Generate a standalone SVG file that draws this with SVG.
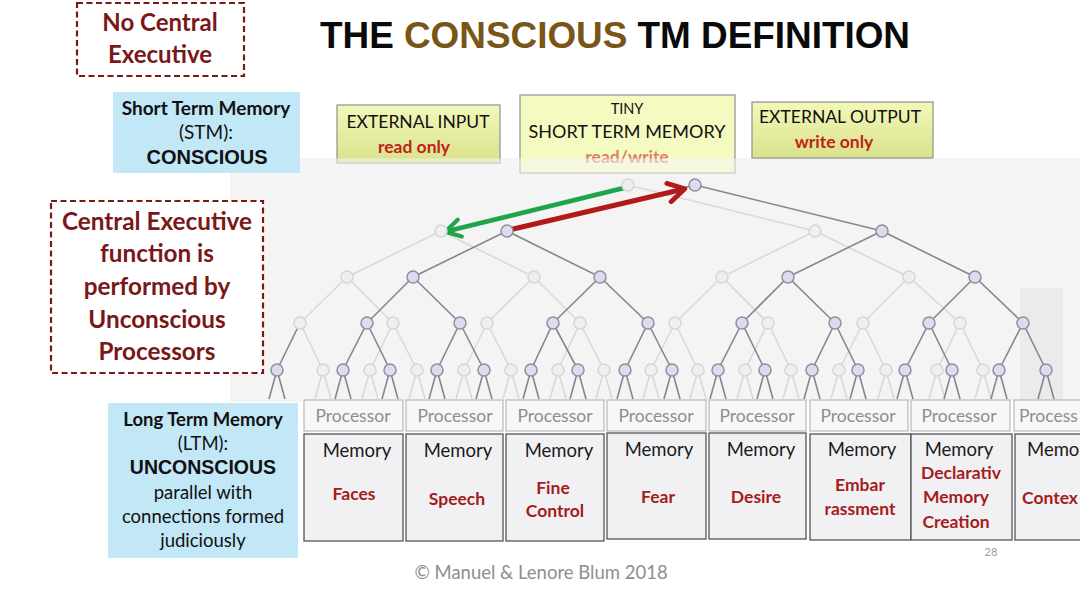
<svg xmlns="http://www.w3.org/2000/svg" width="1080" height="608" viewBox="0 0 1080 608">
<style>
.cal{font-family:Lato,"Open Sans","Liberation Sans",sans-serif}
.ari{font-family:"Liberation Sans",Arial,sans-serif}
.dr{fill:#7a1717;font-weight:bold}
.red{fill:#c0211c;font-weight:bold}
.lab{fill:#a51c1c;font-weight:bold;font-size:17.5px}
.mem{fill:#1a1a1a;font-size:18.5px}
.proc{fill:#8e8e8e;font-size:17.5px}
.dash{fill:#fff;stroke:#7a1717;stroke-width:2.2;stroke-dasharray:6 3.5}
.blue{fill:#c2e7f7}
.pbox{fill:#f7f7f7;stroke:#b8b8b8;stroke-width:1.2}
.mbox{fill:#f1f1f3;stroke:#555;stroke-width:1.3}
.de{stroke:#86868f;stroke-width:1.6;fill:none}
.le{stroke:#d9d9d9;stroke-width:1.6;fill:none}
.dn{fill:#dcdcee;stroke:#8f8fa0;stroke-width:1.5}
.ln{fill:#efefef;stroke:#d6d6d6;stroke-width:1.5}
</style>
<defs>
<linearGradient id="yg" x1="0" y1="0" x2="0" y2="1">
<stop offset="0" stop-color="#f3f8b8"/>
<stop offset="1" stop-color="#d9e28c"/>
</linearGradient>
<marker id="ag" viewBox="0 0 14 14" refX="11" refY="7" markerWidth="22" markerHeight="22" markerUnits="userSpaceOnUse" orient="auto">
<path d="M2,1.5 L11.5,7 L2,12.5" fill="none" stroke="#1ea54b" stroke-width="2.6" stroke-linecap="round" stroke-linejoin="round"/>
</marker>
<marker id="ar" viewBox="0 0 14 14" refX="11" refY="7" markerWidth="24" markerHeight="24" markerUnits="userSpaceOnUse" orient="auto">
<path d="M2,1.5 L11.5,7 L2,12.5" fill="none" stroke="#b21a1a" stroke-width="2.8" stroke-linecap="round" stroke-linejoin="round"/>
</marker>
</defs>
<rect width="1080" height="608" fill="#fff"/>
<rect x="230" y="158" width="850" height="244" fill="#f4f4f4"/>
<rect x="1020" y="288" width="43" height="112" fill="#ebebeb"/>

<g id="title">
<text x="320" y="48" class="ari" font-size="37" font-weight="bold" textLength="590" lengthAdjust="spacingAndGlyphs"><tspan fill="#0a0a0a">THE </tspan><tspan fill="#7a5518">CONSCIOUS</tspan><tspan fill="#0a0a0a"> TM DEFINITION</tspan></text>
</g>

<g id="no-central-executive">
<rect class="dash" x="77" y="3" width="167" height="73"/>
<text class="cal dr" font-size="24" text-anchor="middle"><tspan x="160" y="31">No Central</tspan><tspan x="160" y="63">Executive</tspan></text>
</g>

<g id="stm-label">
<rect class="blue" x="113" y="92" width="187" height="81"/>
<text class="cal" text-anchor="middle" fill="#111"><tspan x="206" y="115" font-weight="bold" font-size="19">Short Term Memory</tspan><tspan x="206" y="139" font-size="19">(STM):</tspan></text>
<text class="ari" x="207" y="164" text-anchor="middle" font-weight="bold" font-size="20" fill="#111">CONSCIOUS</text>
</g>

<g id="external-input">
<rect x="337" y="105" width="163" height="58" fill="url(#yg)" stroke="#8f8f8f" stroke-width="1.2"/>
<text class="cal" text-anchor="middle" font-size="17.5"><tspan x="418" y="128" fill="#111">EXTERNAL INPUT</tspan><tspan x="414" y="153" class="red">read only</tspan></text>
</g>

<g id="tiny-stm">
<rect x="520" y="95" width="215" height="78" fill="#f4fac0" stroke="#8f8f8f" stroke-width="1.2"/>
<text class="cal" text-anchor="middle" fill="#111"><tspan x="627" y="114" font-size="14.5">TINY</tspan><tspan x="627" y="138" font-size="18">SHORT TERM MEMORY</tspan><tspan x="627" y="163" font-size="17.5" font-weight="bold" fill="#e07a72">read/write</tspan></text>
</g>

<g id="external-output">
<rect x="752" y="102" width="181" height="56" fill="url(#yg)" stroke="#8f8f8f" stroke-width="1.2"/>
<text class="cal" text-anchor="middle" font-size="17.5"><tspan x="840" y="123" fill="#111">EXTERNAL OUTPUT</tspan><tspan x="834" y="148" class="red">write only</tspan></text>
</g>
<rect x="336" y="158.5" width="400" height="16" fill="#f6f6f6" opacity="0.55"/>

<g id="central-executive-note">
<rect class="dash" x="51" y="201" width="212" height="172"/>
<text class="cal dr" font-size="24.3" text-anchor="middle"><tspan x="157" y="230">Central Executive</tspan><tspan x="157" y="262">function is</tspan><tspan x="157" y="295">performed by</tspan><tspan x="157" y="328">Unconscious</tspan><tspan x="157" y="360">Processors</tspan></text>
</g>

<g id="ltm-label">
<rect class="blue" x="108" y="403" width="190" height="155"/>
<text class="cal" text-anchor="middle" fill="#111" font-size="18.5"><tspan x="203" y="426" font-weight="bold">Long Term Memory</tspan><tspan x="203" y="450">(LTM):</tspan></text>
<text class="ari" x="203" y="474" text-anchor="middle" font-weight="bold" font-size="19.5" fill="#111">UNCONSCIOUS</text>
<text class="cal" text-anchor="middle" fill="#111" font-size="18.5"><tspan x="203" y="499">parallel with</tspan><tspan x="203" y="523">connections formed</tspan><tspan x="203" y="547">judiciously</tspan></text>
</g>

<g id="connectors">
<g id="light-tree-edges" class="le">
<path d="M628,185 L441,231 M628,185 L815,231 M441,231 L347,277 M441,231 L534,277 M815,231 L722,277 M815,231 L909,277 M347,277 L300,323 M347,277 L393,323 M534,277 L487,323 M534,277 L580,323 M722,277 L675,323 M722,277 L768,323 M909,277 L863,323 M909,277 L960,323"/>
<path d="M300,323 L323,370 M393,323 L370,370 M393,323 L417,370 M487,323 L464,370 M487,323 L511,370 M580,323 L558,370 M580,323 L604,370 M675,323 L651,370 M675,323 L698,370 M768,323 L745,370 M768,323 L791,370 M863,323 L839,370 M863,323 L886,370 M960,323 L937,370 M960,323 L983,370"/>
<path d="M323,370 L315,399 M323,370 L331,399 M370,370 L362,399 M370,370 L378,399 M417,370 L409,399 M417,370 L425,399 M464,370 L456,399 M464,370 L472,399 M511,370 L503,399 M511,370 L519,399 M558,370 L550,399 M558,370 L566,399 M604,370 L596,399 M604,370 L612,399 M651,370 L643,399 M651,370 L659,399 M698,370 L690,399 M698,370 L706,399 M745,370 L737,399 M745,370 L753,399 M791,370 L783,399 M791,370 L799,399 M839,370 L831,399 M839,370 L847,399 M886,370 L878,399 M886,370 L894,399 M937,370 L929,399 M937,370 L945,399 M983,370 L975,399 M983,370 L991,399"/>
</g>
<g id="dark-tree-edges" class="de">
<path d="M695,185 L507,231 M695,185 L882,231 M507,231 L413,277 M507,231 L600,277 M882,231 L788,277 M882,231 L975,277 M413,277 L367,323 M413,277 L460,323 M600,277 L553,323 M600,277 L648,323 M788,277 L742,323 M788,277 L835,323 M975,277 L929,323 M975,277 L1023,323"/>
<path d="M300,323 L277,370 M367,323 L343,370 M367,323 L390,370 M460,323 L437,370 M460,323 L484,370 M553,323 L531,370 M553,323 L578,370 M648,323 L625,370 M648,323 L672,370 M742,323 L718,370 M742,323 L765,370 M835,323 L812,370 M835,323 L858,370 M929,323 L905,370 M929,323 L952,370 M1023,323 L999,370 M1023,323 L1046,370"/>
<path d="M277,370 L269,399 M277,370 L285,399 M343,370 L335,399 M343,370 L351,399 M390,370 L382,399 M390,370 L398,399 M437,370 L429,399 M437,370 L445,399 M484,370 L476,399 M484,370 L492,399 M531,370 L523,399 M531,370 L539,399 M578,370 L570,399 M578,370 L586,399 M625,370 L617,399 M625,370 L633,399 M672,370 L664,399 M672,370 L680,399 M718,370 L710,399 M718,370 L726,399 M765,370 L757,399 M765,370 L773,399 M812,370 L804,399 M812,370 L820,399 M858,370 L850,399 M858,370 L866,399 M905,370 L897,399 M905,370 L913,399 M952,370 L944,399 M952,370 L960,399 M999,370 L991,399 M999,370 L1007,399 M1046,370 L1038,399 M1046,370 L1054,399"/>
</g>
<line x1="626" y1="187.5" x2="446" y2="231.5" stroke="#1ea54b" stroke-width="4.5" marker-end="url(#ag)"/>
<line x1="509" y1="230" x2="684" y2="189" stroke="#b21a1a" stroke-width="5" marker-end="url(#ar)"/>
</g>

<g id="light-tree-nodes" class="ln">
<circle cx="628" cy="185" r="6"/>
<circle cx="441" cy="231" r="6"/><circle cx="815" cy="231" r="6"/>
<circle cx="347" cy="277" r="6"/><circle cx="534" cy="277" r="6"/><circle cx="722" cy="277" r="6"/><circle cx="909" cy="277" r="6"/>
<circle cx="300" cy="323" r="6"/><circle cx="393" cy="323" r="6"/><circle cx="487" cy="323" r="6"/><circle cx="580" cy="323" r="6"/><circle cx="675" cy="323" r="6"/><circle cx="768" cy="323" r="6"/><circle cx="863" cy="323" r="6"/><circle cx="960" cy="323" r="6"/>
<circle cx="323" cy="370" r="6"/><circle cx="370" cy="370" r="6"/><circle cx="417" cy="370" r="6"/><circle cx="464" cy="370" r="6"/><circle cx="511" cy="370" r="6"/><circle cx="558" cy="370" r="6"/><circle cx="604" cy="370" r="6"/><circle cx="651" cy="370" r="6"/><circle cx="698" cy="370" r="6"/><circle cx="745" cy="370" r="6"/><circle cx="791" cy="370" r="6"/><circle cx="839" cy="370" r="6"/><circle cx="886" cy="370" r="6"/><circle cx="937" cy="370" r="6"/><circle cx="983" cy="370" r="6"/>
</g>
<g id="dark-tree-nodes" class="dn">
<circle cx="695" cy="185" r="6"/>
<circle cx="507" cy="231" r="6"/><circle cx="882" cy="231" r="6"/>
<circle cx="413" cy="277" r="6"/><circle cx="600" cy="277" r="6"/><circle cx="788" cy="277" r="6"/><circle cx="975" cy="277" r="6"/>
<circle cx="367" cy="323" r="6"/><circle cx="460" cy="323" r="6"/><circle cx="553" cy="323" r="6"/><circle cx="648" cy="323" r="6"/><circle cx="742" cy="323" r="6"/><circle cx="835" cy="323" r="6"/><circle cx="929" cy="323" r="6"/><circle cx="1023" cy="323" r="6"/>
<circle cx="277" cy="370" r="6"/><circle cx="343" cy="370" r="6"/><circle cx="390" cy="370" r="6"/><circle cx="437" cy="370" r="6"/><circle cx="484" cy="370" r="6"/><circle cx="531" cy="370" r="6"/><circle cx="578" cy="370" r="6"/><circle cx="625" cy="370" r="6"/><circle cx="672" cy="370" r="6"/><circle cx="718" cy="370" r="6"/><circle cx="765" cy="370" r="6"/><circle cx="812" cy="370" r="6"/><circle cx="858" cy="370" r="6"/><circle cx="905" cy="370" r="6"/><circle cx="952" cy="370" r="6"/><circle cx="999" cy="370" r="6"/><circle cx="1046" cy="370" r="6"/>
</g>

<g id="col-faces" class="cal">
<rect class="pbox" x="304" y="400" width="99" height="31"/>
<text class="proc" x="353" y="422" text-anchor="middle">Processor</text>
<rect class="mbox" x="304" y="434" width="99" height="107"/>
<text class="mem" x="357" y="457" text-anchor="middle">Memory</text>
<text class="lab" x="354" y="500" text-anchor="middle">Faces</text>
</g>
<g id="col-speech" class="cal">
<rect class="pbox" x="406" y="400" width="97" height="31"/>
<text class="proc" x="455" y="422" text-anchor="middle">Processor</text>
<rect class="mbox" x="406" y="434" width="97" height="107"/>
<text class="mem" x="458" y="457" text-anchor="middle">Memory</text>
<text class="lab" x="457" y="505" text-anchor="middle">Speech</text>
</g>
<g id="col-fine-control" class="cal">
<rect class="pbox" x="506" y="400" width="98" height="31"/>
<text class="proc" x="555" y="422" text-anchor="middle">Processor</text>
<rect class="mbox" x="506" y="434" width="98" height="107"/>
<text class="mem" x="559" y="457" text-anchor="middle">Memory</text>
<text class="lab" text-anchor="middle"><tspan x="553" y="494">Fine</tspan><tspan x="555" y="517">Control</tspan></text>
</g>
<g id="col-fear" class="cal">
<rect class="pbox" x="607" y="400" width="99" height="31"/>
<text class="proc" x="656" y="422" text-anchor="middle">Processor</text>
<rect class="mbox" x="607" y="433" width="99" height="106"/>
<text class="mem" x="659" y="456" text-anchor="middle">Memory</text>
<text class="lab" x="658" y="503" text-anchor="middle">Fear</text>
</g>
<g id="col-desire" class="cal">
<rect class="pbox" x="709" y="400" width="97" height="31"/>
<text class="proc" x="757" y="422" text-anchor="middle">Processor</text>
<rect class="mbox" x="709" y="433" width="97" height="106"/>
<text class="mem" x="761" y="456" text-anchor="middle">Memory</text>
<text class="lab" x="756" y="503" text-anchor="middle">Desire</text>
</g>
<g id="col-embarrassment" class="cal">
<rect class="pbox" x="810" y="400" width="98" height="31"/>
<text class="proc" x="858" y="422" text-anchor="middle">Processor</text>
<rect class="mbox" x="810" y="434" width="101" height="106"/>
<text class="mem" x="862" y="456" text-anchor="middle">Memory</text>
<text class="lab" text-anchor="middle"><tspan x="860" y="491">Embar</tspan><tspan x="860" y="515">rassment</tspan></text>
</g>
<g id="col-declarative" class="cal">
<rect class="pbox" x="911" y="400" width="99" height="31"/>
<text class="proc" x="959" y="422" text-anchor="middle">Processor</text>
<rect class="mbox" x="911" y="434" width="101" height="106"/>
<text class="mem" x="959" y="456" text-anchor="middle">Memory</text>
<text class="lab" text-anchor="middle"><tspan x="961" y="479">Declarativ</tspan><tspan x="956" y="503">Memory</tspan><tspan x="956" y="528">Creation</tspan></text>
</g>
<g id="col-context" class="cal">
<rect class="pbox" x="1014" y="400" width="80" height="31"/>
<text class="proc" x="1019" y="422">Process</text>
<rect class="mbox" x="1015" y="434" width="80" height="106"/>
<text class="mem" x="1027" y="456">Memo</text>
<text class="lab" x="1022" y="504">Contex</text>
</g>

<g id="footer" class="cal">
<text x="541" y="579" text-anchor="middle" fill="#8e8e8e" font-size="18.5">© Manuel &amp; Lenore Blum 2018</text>
<text x="991" y="556" text-anchor="middle" fill="#9a9a9a" font-size="11">28</text>
</g>
</svg>
